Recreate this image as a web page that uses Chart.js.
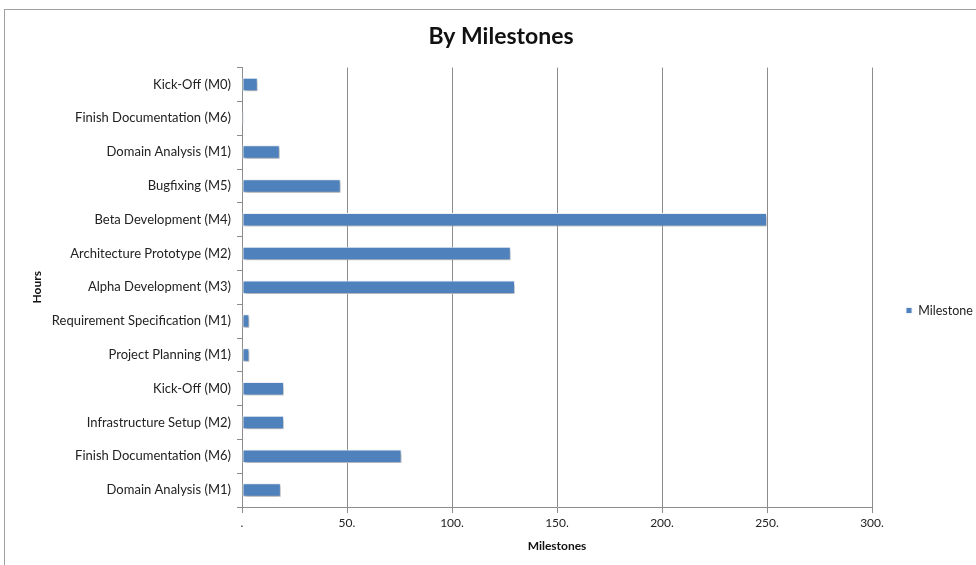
<!DOCTYPE html>
<html lang="en">
<head>
  <meta charset="UTF-8">
  <title>By Milestones</title>
  <script src="https://cdn.jsdelivr.net/npm/chart.js"></script>
  <style>
    body {
      margin: 0;
      background: #fff;
      font-family: Lato, sans-serif;
    }
    #frame {
      position: absolute;
      left: 4px;
      top: 9px;
      width: 990px;
      height: 580px;
      border: 1px solid #a0a0a0;
    }
    #wrap {
      position: absolute;
      left: 0;
      top: 0;
      width: 976px;
      height: 565px;
    }
  </style>
</head>
<body>
<div id="frame"></div>
<div id="wrap"><canvas id="milestoneChart"></canvas></div>

<script>
  const tasks = [
    'Kick-Off (M0)',
    'Finish Documentation (M6)',
    'Domain Analysis (M1)',
    'Bugfixing (M5)',
    'Beta Development (M4)',
    'Architecture Prototype (M2)',
    'Alpha Development (M3)',
    'Requirement Specification (M1)',
    'Project Planning (M1)',
    'Kick-Off (M0)',
    'Infrastructure Setup (M2)',
    'Finish Documentation (M6)',
    'Domain Analysis (M1)'
  ];
  const hours = [7.5, 1, 18, 47, 250, 128, 130, 3.5, 3.5, 20, 20, 76, 18.5];

  // soft drop shadow under the bars
  const barShadow = {
    id: 'barShadow',
    beforeDatasetsDraw(chart) {
      const c = chart.ctx;
      c.save();
      c.shadowColor = 'rgba(0, 0, 0, 0.35)';
      c.shadowBlur = 3;
      c.shadowOffsetX = 1;
      c.shadowOffsetY = 2;
    },
    afterDatasetsDraw(chart) {
      chart.ctx.restore();
    }
  };

  // push the legend out towards the right edge, a bit lower
  const legendShift = {
    id: 'legendShift',
    afterUpdate(chart) {
      const lg = chart.legend;
      if (!lg) return;
      lg.left += 30;
      lg.right += 30;
      lg.top += 26;
      lg.bottom += 26;
    }
  };

  const ctx = document.getElementById('milestoneChart').getContext('2d');
  const milestoneChart = new Chart(ctx, {
    type: 'bar',
    data: {
      labels: tasks,
      datasets: [{
        label: 'Milestone',
        data: hours,
        backgroundColor: '#4f81bd',
        borderColor: '#eef2f8',
        borderWidth: 1,
        borderSkipped: false,
        barPercentage: 0.4,
        categoryPercentage: 1
      }]
    },
    plugins: [barShadow, legendShift],
    options: {
      indexAxis: 'y',
      responsive: true,
      maintainAspectRatio: false,
      animation: false,
      layout: {
        padding: { left: 26, right: 0, top: 12, bottom: 8 }
      },
      scales: {
        x: {
          min: 0,
          max: 300,
          ticks: {
            stepSize: 50,
            color: '#222',
            font: { family: 'Lato', size: 12 },
            padding: 3,
            callback: v => v === 0 ? '.' : v + '.'
          },
          grid: {
            color: '#8c8c8c',
            tickLength: 6,
            tickColor: '#8c8c8c'
          },
          border: { color: '#8c8c8c' },
          title: {
            display: true,
            text: 'Milestones',
            color: '#111',
            font: { family: 'Lato', size: 12, weight: 'bold' }
          },
          afterFit(scale) {
            scale.height = 50;
            // keep the plot clear of the legend column
            scale.paddingRight = 104;
          }
        },
        y: {
          ticks: {
            color: '#222',
            font: { family: 'Lato', size: 13 },
            padding: 6
          },
          grid: {
            drawOnChartArea: false,
            tickLength: 5,
            tickColor: '#8c8c8c'
          },
          border: { color: '#8c8c8c' },
          title: {
            display: true,
            text: 'Hours',
            color: '#111',
            font: { family: 'Lato', size: 12, weight: 'bold' }
          },
          afterFit(scale) { scale.width = 216; }
        }
      },
      plugins: {
        title: {
          display: true,
          text: 'By Milestones',
          color: '#111',
          font: { family: 'Lato', size: 23, weight: 'bold' },
          padding: { top: 11, bottom: 17 }
        },
        legend: {
          position: 'right',
          labels: {
            boxWidth: 6,
            boxHeight: 6,
            color: '#222',
            font: { family: 'Lato', size: 12.5 },
            padding: 4
          }
        },
        tooltip: { enabled: false }
      }
    }
  });
</script>
</body>
</html>
